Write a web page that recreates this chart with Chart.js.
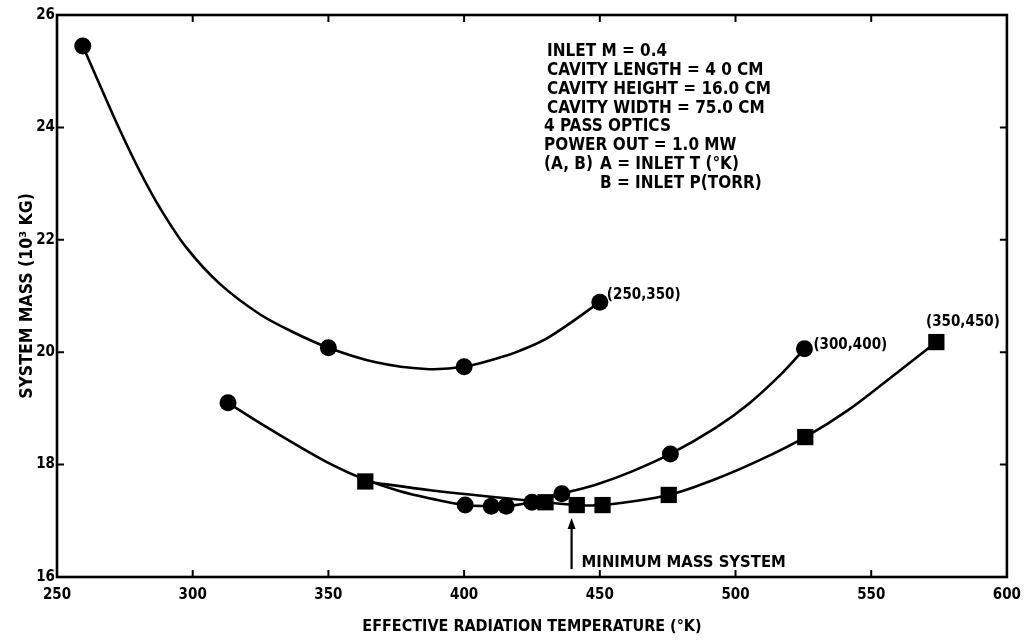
<!DOCTYPE html>
<html>
<head>
<meta charset="utf-8">
<script src="https://cdn.jsdelivr.net/npm/chart.js@4/dist/chart.umd.min.js"></script>
<style>
  html, body { margin: 0; padding: 0; background: #fff; }
  #wrap { width: 1030px; height: 640px; }
</style>
</head>
<body>
<div id="wrap"><canvas id="massChart"></canvas></div>
<script>
const FONT = "'DejaVu Sans Condensed', 'Liberation Sans Narrow', 'DejaVu Sans', sans-serif";

// computed points, (250,350) case
const temp250 = [259.5, 350, 400, 450];
const mass250 = [25.45, 20.08, 19.74, 20.89];
// computed points, (300,400) case
const temp300 = [313, 400.4, 410, 415.5, 425, 436, 476, 525.4];
const mass300 = [19.1, 17.28, 17.26, 17.26, 17.33, 17.48, 18.19, 20.06];
// computed points, (350,450) case
const temp350 = [363.6, 430, 441.5, 451, 475.4, 525.7, 574];
const mass350 = [17.7, 17.33, 17.28, 17.28, 17.46, 18.49, 20.18];

// faired curves
const curve250T = [259.5, 267, 273.2, 280.5, 287.9, 297.7, 309.9, 324.6, 336.9, 350, 367.5, 385.9, 400, 412.9, 420.2, 431.3, 450];
const curve250M = [25.45, 24.62, 23.95, 23.22, 22.57, 21.86, 21.22, 20.68, 20.36, 20.08, 19.82, 19.7, 19.74, 19.9, 20.02, 20.27, 20.89];
const curve300T = [313, 327.1, 339.3, 351.6, 362.6, 376.1, 388.3, 400.4, 410, 415.5, 425, 436, 449.6, 461.9, 476, 492.5, 504.8, 517, 525.4];
const curve300M = [19.1, 18.67, 18.32, 17.99, 17.75, 17.53, 17.39, 17.28, 17.26, 17.26, 17.33, 17.48, 17.66, 17.88, 18.19, 18.65, 19.08, 19.62, 20.06];
const curve350T = [363.6, 388.3, 430, 441.5, 451, 475.4, 492.5, 508.5, 525.7, 541.5, 557.5, 574];
const curve350M = [17.7, 17.54, 17.33, 17.28, 17.28, 17.46, 17.74, 18.07, 18.49, 18.97, 19.56, 20.18];

const caseLabels = ["(250,350)", "(300,400)", "(350,450)"];
const xTicks = [250, 300, 350, 400, 450, 500, 550, 600];
const yTicks = [16, 18, 20, 22, 24, 26];

const notes = [
  "INLET M = 0.4",
  "CAVITY LENGTH = 4 0 CM",
  "CAVITY HEIGHT = 16.0 CM",
  "CAVITY WIDTH = 75.0 CM",
  "4 PASS OPTICS",
  "POWER OUT = 1.0 MW",
  "(A, B)",
  "A = INLET T (°K)",
  "B = INLET P(TORR)"
];
const minMassTemp = 439.6;

function pts(xs, ys) {
  return xs.map((x, i) => ({ x: x, y: ys[i] }));
}

function curve(xs, ys) {
  return {
    data: pts(xs, ys),
    showLine: true,
    borderColor: "#000",
    borderWidth: 2.6,
    tension: 0.35,
    pointRadius: 0,
    pointHoverRadius: 0
  };
}

function marks(xs, ys, style, radius) {
  return {
    data: pts(xs, ys),
    showLine: false,
    backgroundColor: "#000",
    borderColor: "#000",
    pointStyle: style,
    pointRadius: radius,
    pointHoverRadius: radius,
    pointBorderWidth: 0
  };
}

const frame = {
  id: "frame",
  afterDraw(chart) {
    const ctx = chart.ctx;
    const a = chart.chartArea;
    const xs = chart.scales.x;
    const ys = chart.scales.y;
    ctx.save();
    ctx.strokeStyle = "#000";
    ctx.fillStyle = "#000";
    ctx.lineWidth = 2.6;
    ctx.strokeRect(a.left, a.top, a.right - a.left, a.bottom - a.top);

    // inward ticks on all four sides
    ctx.lineWidth = 2;
    ctx.beginPath();
    xTicks.slice(1, -1).forEach(v => {
      const p = xs.getPixelForValue(v);
      ctx.moveTo(p, a.bottom); ctx.lineTo(p, a.bottom - 7);
      ctx.moveTo(p, a.top); ctx.lineTo(p, a.top + 7);
    });
    yTicks.slice(1, -1).forEach(v => {
      const p = ys.getPixelForValue(v);
      ctx.moveTo(a.left, p); ctx.lineTo(a.left + 7, p);
      ctx.moveTo(a.right, p); ctx.lineTo(a.right - 7, p);
    });
    ctx.stroke();

    // case labels
    ctx.font = "bold 15px " + FONT;
    ctx.textBaseline = "middle";
    ctx.textAlign = "left";
    ctx.fillText(caseLabels[0], xs.getPixelForValue(452.6), ys.getPixelForValue(21.02));
    ctx.fillText(caseLabels[1], xs.getPixelForValue(528.7), ys.getPixelForValue(20.13));
    ctx.fillText(caseLabels[2], xs.getPixelForValue(570.2), ys.getPixelForValue(20.54));

    // parameter block
    ctx.font = "bold 17px " + FONT;
    const bx = a.left + 487;
    const by = a.top + 37;
    const lh = 18.7;
    notes.slice(0, 6).forEach((t, i) => ctx.fillText(t, i < 4 ? bx + 3 : bx, by + i * lh));
    ctx.fillText(notes[6], bx, by + 6 * lh);
    ctx.fillText(notes[7], bx + 56, by + 6 * lh);
    ctx.fillText(notes[8], bx + 56, by + 7 * lh + 1);

    // minimum mass arrow
    const ax = xs.getPixelForValue(minMassTemp);
    const y0 = ys.getPixelForValue(16.14);
    const y1 = ys.getPixelForValue(17.05);
    ctx.lineWidth = 2.2;
    ctx.beginPath();
    ctx.moveTo(ax, y0); ctx.lineTo(ax, y1 + 8);
    ctx.stroke();
    ctx.beginPath();
    ctx.moveTo(ax, y1); ctx.lineTo(ax - 4, y1 + 11); ctx.lineTo(ax + 4, y1 + 11);
    ctx.closePath();
    ctx.fill();
    ctx.font = "bold 16.5px " + FONT;
    ctx.fillText("MINIMUM MASS SYSTEM", ax + 10, ys.getPixelForValue(16.25));
    ctx.restore();
  }
};

new Chart(document.getElementById("massChart"), {
  type: "scatter",
  data: {
    datasets: [
      curve(curve250T, curve250M),
      curve(curve300T, curve300M),
      curve(curve350T, curve350M),
      marks(temp250, mass250, "circle", 8.5),
      marks(temp300, mass300, "circle", 8.5),
      marks(temp350, mass350, "rect", 11.5)
    ]
  },
  options: {
    responsive: true,
    maintainAspectRatio: false,
    animation: false,
    layout: { padding: { top: 15, right: 21, left: 0, bottom: 0 } },
    plugins: {
      legend: { display: false },
      tooltip: { enabled: false }
    },
    scales: {
      x: {
        type: "linear",
        min: 250,
        max: 600,
        afterFit(scale) { scale.height = 63; },
        afterBuildTicks(scale) { scale.ticks = xTicks.map(v => ({ value: v })); },
        grid: { display: false, drawTicks: false },
        border: { display: false },
        ticks: {
          padding: 9,
          color: "#000",
          font: { family: FONT, size: 15, weight: "bold" }
        },
        title: {
          display: true,
          text: "EFFECTIVE RADIATION TEMPERATURE (°K)",
          color: "#000",
          padding: { top: 0, bottom: 4 },
          font: { family: FONT, size: 16, weight: "bold" }
        }
      },
      y: {
        type: "linear",
        min: 16,
        max: 26,
        afterFit(scale) { scale.width = 57; },
        afterBuildTicks(scale) { scale.ticks = yTicks.map(v => ({ value: v })); },
        grid: { display: false, drawTicks: false },
        border: { display: false },
        ticks: {
          padding: 2,
          color: "#000",
          font: { family: FONT, size: 15, weight: "bold" }
        },
        title: {
          display: true,
          text: "SYSTEM MASS (10³ KG)",
          color: "#000",
          padding: { top: 17, bottom: 0 },
          font: { family: FONT, size: 17.5, weight: "bold" }
        }
      }
    }
  },
  plugins: [frame]
});
</script>
</body>
</html>
